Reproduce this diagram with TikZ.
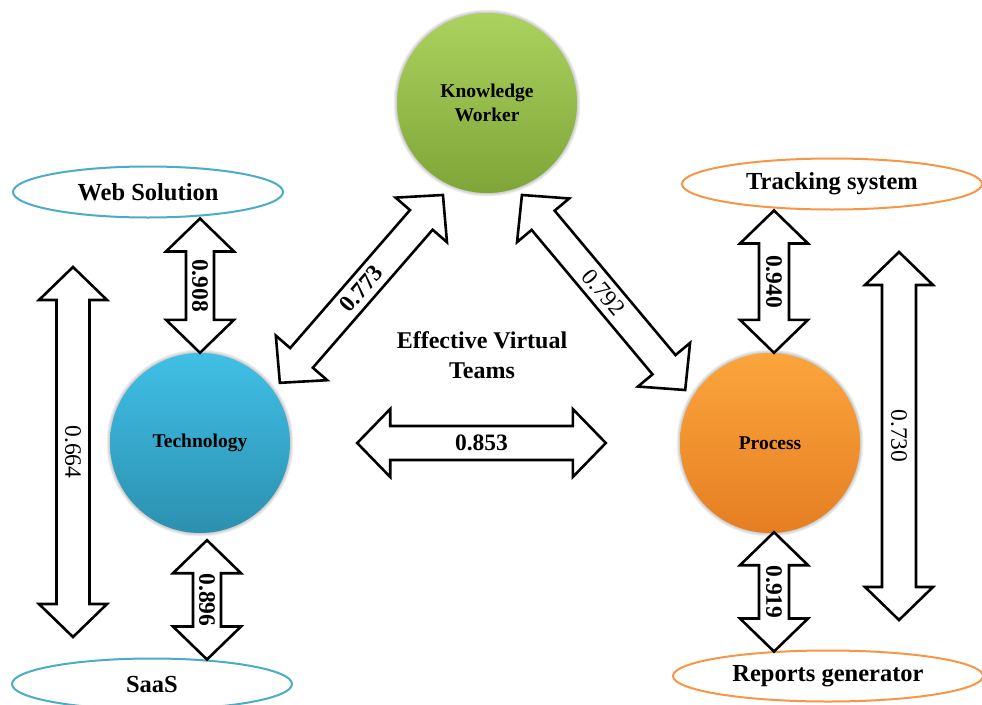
\documentclass[tikz,border=0pt]{standalone}
\usepackage{fontspec}
\setmainfont{Liberation Serif}
\usetikzlibrary{shapes.geometric,calc}
\definecolor{kwtop}{HTML}{ABD15E}
\definecolor{kwbot}{HTML}{7FA538}
\definecolor{tetop}{HTML}{40BFE5}
\definecolor{tebot}{HTML}{2C90B0}
\definecolor{prtop}{HTML}{FCA53C}
\definecolor{prbot}{HTML}{E57E22}
\definecolor{ellblue}{HTML}{4BACC6}
\definecolor{ellorange}{HTML}{F79646}
\tikzset{
  bigcircle/.style={circle, minimum size=180pt, inner sep=0pt, font=\fontsize{19.5}{24}\selectfont\bfseries, align=center},
  ellnode/.style={ellipse, line width=2pt, inner sep=0pt, minimum height=51pt, font=\fontsize{24.5}{28}\selectfont\bfseries},
  blockarr/.style={draw=black, fill=white, line width=2.6pt, line join=miter},
  lblb/.style={font=\fontsize{23.5}{28}\selectfont\bfseries, inner sep=0pt},
  lblr/.style={font=\fontsize{23.5}{28}\selectfont, inner sep=0pt},
}
% #1 tip A, #2 tip B, #3 shaft half width, #4 label rotation, #5 label style, #6 label
\newcommand\blockarrow[6]{%
  \draw[blockarr] (#1)
    -- ($(#1)!33pt!(#2)!34pt!90:(#2)$)
    -- ($(#1)!33pt!(#2)!#3pt!90:(#2)$)
    -- ($(#2)!33pt!(#1)!#3pt!-90:(#1)$)
    -- ($(#2)!33pt!(#1)!34pt!-90:(#1)$)
    -- (#2)
    -- ($(#2)!33pt!(#1)!34pt!90:(#1)$)
    -- ($(#2)!33pt!(#1)!#3pt!90:(#1)$)
    -- ($(#1)!33pt!(#2)!#3pt!-90:(#2)$)
    -- ($(#1)!33pt!(#2)!34pt!-90:(#2)$)
    -- cycle;
  \path ($(#1)!0.5!(#2)$) node[#5, rotate=#4] {#6};
}
\begin{document}
\begin{tikzpicture}[x=1pt,y=-1pt]
\useasboundingbox (0,0) rectangle (982,704);
\clip (0,0) rectangle (982,704);
\fill[white] (0,0) rectangle (982,704);

% centres
\coordinate (kwc) at (487,103);
\coordinate (tec) at (200,443);
\coordinate (prc) at (770,443);

% soft shadows
\foreach \c in {kwc,tec,prc}{
  \foreach \r in {90.5,91.5,92.5,93.5}{
    \fill[black,opacity=0.06] (\c) circle[radius=\r pt];
  }
}

% circles
\node[bigcircle, top color=kwtop, bottom color=kwbot] (kw) at (kwc) {Knowledge\\Worker};
\node[bigcircle, top color=tetop, bottom color=tebot] (tech) at (tec) {Technology};
\node[bigcircle, top color=prtop, bottom color=prbot] (proc) at (prc) {Process};

% ellipses
\node[ellnode, draw=ellblue, minimum width=270pt] (web) at (148,192) {Web Solution};
\node[ellnode, draw=ellblue, minimum width=280pt] (saas) at (152,684) {SaaS};
\node[ellnode, draw=ellorange, minimum width=300pt] (track) at (832,184) {Tracking system};
\node[ellnode, draw=ellorange, minimum width=310pt] (rep) at (828,676) {Reports generator};

% centre text
\node[font=\fontsize{24}{30}\selectfont\bfseries, align=center] (evt) at (482,355) {Effective Virtual\\Teams};

% arrow end points
\coordinate (w1) at (tech.north |- web.south);
\coordinate (s1) at ($(tech.south)+(7,7)$);
\coordinate (s2) at ($(tech.south |- saas.north)+(7,2)$);
\coordinate (t1) at ($(proc.north |- track.south)+(4,0)$);
\coordinate (t2) at ($(proc.north)+(4,0)$);
\coordinate (r1) at ($(proc.south)+(4,-1)$);
\coordinate (r2) at ($(proc.south |- rep.north)+(4,2)$);
\coordinate (h1) at ($(tech.east)!67pt!(proc.west)$);
\coordinate (h2) at ($(proc.west)!74pt!(tech.east)$);
\coordinate (d1) at ($(tec)+(37:100pt)$);
\coordinate (d2) at ($(kwc)+(244.4:102pt)$);
\coordinate (e1) at ($(kwc)+(290.8:98.4pt)$);
\coordinate (e2) at ($(prc)+(148:100pt)$);
\coordinate (l1) at (73,267);
\coordinate (l2) at (73,637);
\coordinate (q1) at (899,252);
\coordinate (q2) at (899,620);

% arrows
\blockarrow{w1}{tech.north}{14}{-90}{lblb}{0.908}
\blockarrow{s1}{s2}{14}{-90}{lblb}{0.896}
\blockarrow{t1}{t2}{15}{-90}{lblb}{0.940}
\blockarrow{r1}{r2}{15}{-90}{lblb}{0.919}
\blockarrow{h1}{h2}{17}{0}{lblb}{0.853}
\blockarrow{d1}{d2}{15}{49}{lblb}{0.773}
\blockarrow{e1}{e2}{15}{-50}{lblr}{0.792}
\blockarrow{l1}{l2}{16.5}{-90}{lblr}{0.664}
\blockarrow{q1}{q2}{17}{-90}{lblr}{0.730}
\end{tikzpicture}
\end{document}
